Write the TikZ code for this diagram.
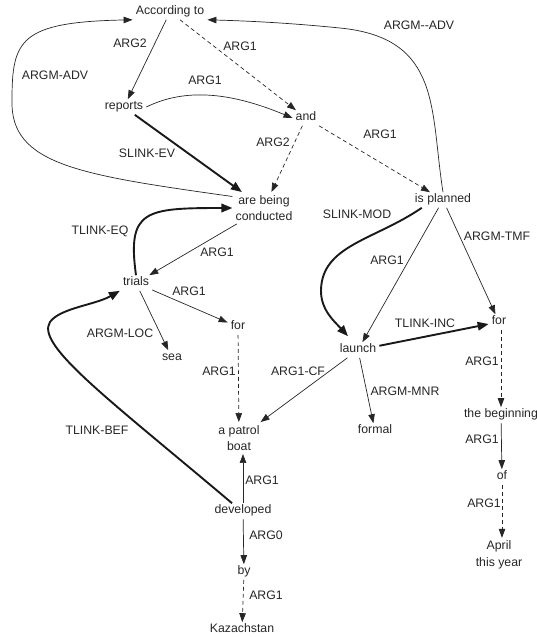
\documentclass[tikz,border=0pt]{standalone}
\usepackage{fontspec}
\setmainfont{Liberation Sans}
\usetikzlibrary{arrows.meta}
\begin{document}
\begin{tikzpicture}[x=1pt,y=-1pt,
  every node/.style={font=\fontsize{12.3}{16.5}\selectfont, text=black!85, inner sep=3pt},
  word/.style={text height=0.72em, text depth=0.2em},
  multi/.style={align=center},
  lab/.style={inner sep=0pt, text height=0.72em, text depth=0.2em},
  arr/.style={line width=0.7pt, draw=black!85, -{Triangle[length=9pt,width=6.5pt]}},
  arrdash/.style={arr, dash pattern=on 4pt off 3pt},
  arrthick/.style={line width=1.9pt, draw=black!90, -{Triangle[length=11pt,width=8.5pt]}}]
\useasboundingbox (0,0) rectangle (537,637);
% words
\node[word] (acc) at (170,12) {According to};
\node[word] (reports) at (124,107) {reports};
\node[word] (and) at (306,118) {and};
\node[multi] (abc) at (264,208) {are being\\conducted};
\node[word] (isp) at (443,200) {is planned};
\node[word] (trials) at (136,283) {trials};
\node[word] (forL) at (238,327) {for};
\node[word] (sea) at (172,358) {sea};
\node[word] (launch) at (358,350) {launch};
\node[word] (forR) at (499,322) {for};
\node[word] (formal) at (375,431) {formal};
\node[word] (begin) at (501,415) {the beginning};
\node[word] (of) at (502,477) {of};
\node[multi] (april) at (499,555) {April\\this year};
\node[multi] (patrol) at (239,438) {a patrol\\boat};
\node[word] (dev) at (243,511) {developed};
\node[word] (by) at (244,572) {by};
\node[word] (kaz) at (242,630) {Kazachstan};
% labels
\node[lab] (l1) at (130,45) {ARG2};
\node[lab] (l2) at (240,48) {ARG1};
\node[lab] (l3) at (55,77) {ARGM-ADV};
\node[lab] (l4) at (205,82) {ARG1};
\node[lab] (l5) at (147,155) {SLINK-EV};
\node[lab] (l6) at (273,144) {ARG2};
\node[lab] (l7) at (380,136) {ARG1};
\node[lab] (l8) at (419,27) {ARGM-{}-ADV};
\node[lab] (l9) at (357,216) {SLINK-MOD};
\node[lab] (l10) at (100,232) {TLINK-EQ};
\node[lab] (l11) at (217,254) {ARG1};
\node[lab] (l12) at (189,293) {ARG1};
\node[lab] (l13) at (120,335) {ARGM-LOC};
\node[lab] (l14) at (219,373) {ARG1};
\node[lab] (l15) at (387,262) {ARG1};
\node[lab] (l16) at (497,238) {ARGM-TMF};
\node[lab] (l17) at (425,325) {TLINK-INC};
\node[lab] (l18) at (298,373) {ARG1-CF};
\node[lab] (l19) at (405,393) {ARGM-MNR};
\node[lab] (l20) at (482,363) {ARG1};
\node[lab] (l21) at (97,432) {TLINK-BEF};
\node[lab] (l22) at (262,482) {ARG1};
\node[lab] (l23) at (266,537) {ARG0};
\node[lab] (l24) at (266,597) {ARG1};
\node[lab] (l25) at (482,441) {ARG1};
\node[lab] (l26) at (484,505) {ARG1};
% connectors
\draw[arr] (acc) -- (reports);
\draw[arrdash] (acc) -- (and);
\draw[arr] (reports.east) .. controls (185,88) and (230,92) .. (and.west);
\draw[arrthick] (reports) -- (abc);
\draw[arr] (abc.160) .. controls (80,175) and (10,165) .. (12,100) .. controls (12,40) and (20,22) .. (acc.south west);
\draw[arrdash] (and) -- (abc);
\draw[arrdash] (and) -- (isp);
\draw[arr] (isp.north) .. controls (430,110) and (442,38) .. (340,28) .. controls (290,23) and (250,21) .. (acc.south east);
\draw[arrthick] ([xshift=10pt]isp.south west) .. controls (375,240) and (322,245) .. (321,290) .. controls (320.5,310) and (335,322) .. ([xshift=-10pt,yshift=6pt]launch.north);
\draw[arr] (isp) -- (launch);
\draw[arr] (isp) -- (forR);
\draw[arr] (abc) -- (trials);
\draw[arrthick] (trials.north) .. controls (127,210) and (145,208) .. (abc.west);
\draw[arr] (trials) -- (forL);
\draw[arr] (trials) -- (sea);
\draw[arrdash] (forL) -- (patrol);
\draw[arrthick] (launch) -- (forR);
\draw[arr] (launch) -- (patrol);
\draw[arr] (launch) -- (formal);
\draw[arrdash] (forR.south -| begin.north) -- (begin.north);
\draw[arr] (begin) -- (of);
\draw[arrdash] (of.south) -- (of.south |- april.north);
\draw[arr] (dev.north) -- (dev.north |- patrol.south);
\draw[arr] (dev) -- (by);
\draw[arrdash] (by) -- (kaz);
\draw[arrthick] ([xshift=-11pt]dev.north) .. controls (110,400) and (35,345) .. (50,322) .. controls (60,308) and (95,305) .. (trials.south west);
\end{tikzpicture}
\end{document}
